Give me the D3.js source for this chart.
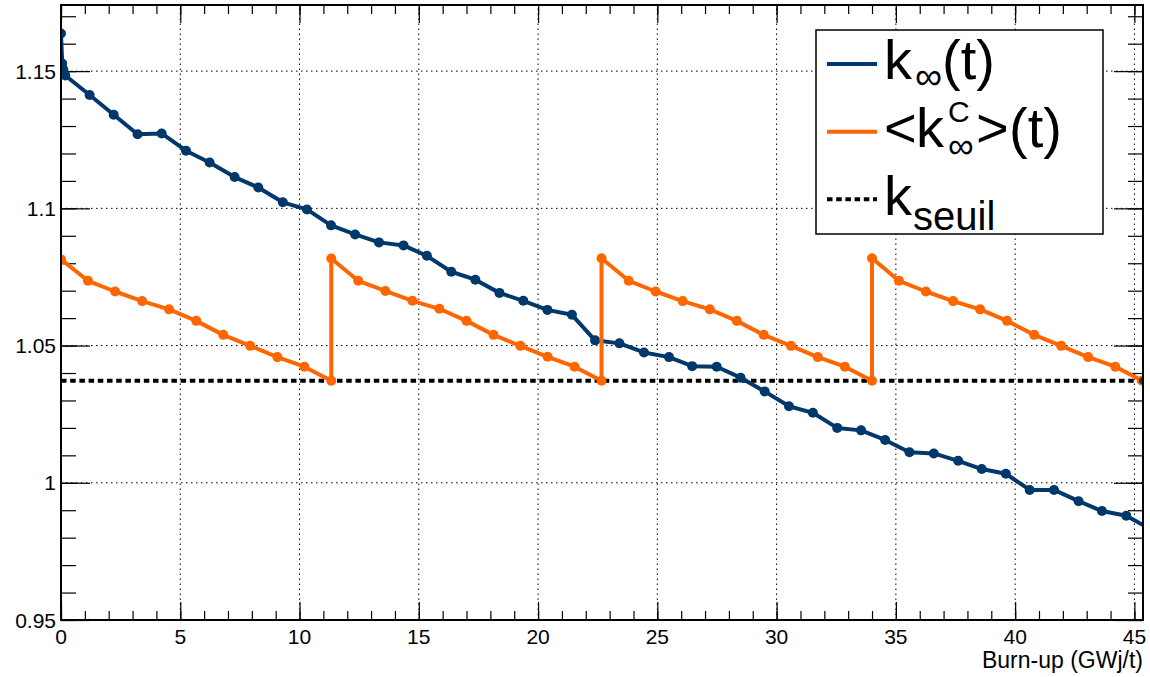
<!DOCTYPE html>
<html><head><meta charset="utf-8">
<script src="https://cdn.jsdelivr.net/npm/d3@7/dist/d3.min.js"></script>
<style>
body{margin:0;background:#fff;}
text{font-family:"Liberation Sans",Arial,Helvetica,sans-serif;fill:#000;}
</style>
</head><body>
<svg id="chart" width="1150" height="677"></svg>
<script>
// ---------- data ----------
const burnupInf = [0, 0.05, 0.1, 0.18, 1.20, 2.21, 3.21, 4.22, 5.24, 6.23, 7.28, 8.27, 9.30, 10.31, 11.32,
  12.33, 13.33, 14.36, 15.34, 16.36, 17.37, 18.38, 19.38, 20.39, 21.42, 22.39, 23.41, 24.44, 25.49,
  26.46, 27.49, 28.49, 29.50, 30.52, 31.52, 32.54, 33.54, 34.55, 35.57, 36.59, 37.61, 38.60, 39.61,
  40.61, 41.63, 42.66, 43.64, 44.66, 45.67];
const kInf = [1.1637, 1.1528, 1.1505, 1.1484, 1.1413, 1.1341, 1.1270, 1.1273, 1.1210, 1.1167, 1.1114,
  1.1076, 1.1022, 1.0996, 1.0938, 1.0905, 1.0876, 1.0865, 1.0827, 1.0769, 1.0740, 1.0692, 1.0663,
  1.0630, 1.0612, 1.0519, 1.0508, 1.0475, 1.0458, 1.0425, 1.0423, 1.0383, 1.0333, 1.0279, 1.0255,
  1.0200, 1.0191, 1.0156, 1.0111, 1.0107, 1.0080, 1.0050, 1.0033, 0.9974, 0.9974, 0.9933, 0.9897,
  0.9880, 0.9831];
const burnupCyc = [0, 1.13, 2.27, 3.40, 4.53, 5.67, 6.80, 7.93, 9.07, 10.20, 11.33,
  11.33, 12.46, 13.60, 14.73, 15.86, 17.00, 18.13, 19.26, 20.40, 21.53, 22.66,
  22.66, 23.80, 24.93, 26.06, 27.20, 28.33, 29.46, 30.60, 31.73, 32.86, 34.00,
  34.00, 35.13, 36.26, 37.40, 38.53, 39.66, 40.80, 41.93, 43.06, 44.20, 45.33];
const kCyc = [1.0814, 1.0736, 1.0697, 1.0662, 1.0632, 1.0590, 1.0539, 1.0499, 1.0458, 1.0423, 1.0372,
  1.0817, 1.0736, 1.0699, 1.0663, 1.0634, 1.0590, 1.0539, 1.0499, 1.0459, 1.0423, 1.0372,
  1.0818, 1.0736, 1.0697, 1.0662, 1.0632, 1.0590, 1.0539, 1.0499, 1.0458, 1.0423, 1.0372,
  1.0818, 1.0736, 1.0697, 1.0662, 1.0632, 1.0590, 1.0539, 1.0499, 1.0458, 1.0423, 1.0372];
const kSeuil = 1.0372;
const xTickValues = [0, 5, 10, 15, 20, 25, 30, 35, 40, 45];
const yTickValues = [0.95, 1, 1.05, 1.1, 1.15];
const yTickLabels = ["0.95", "1", "1.05", "1.1", "1.15"];
const xTitle = "Burn-up (GWj/t)";

// ---------- layout ----------
const L = 61, R = 1143, T = 5, B = 620;
const x = d3.scaleLinear().domain([0, 45.36]).range([L, R]);
const y = d3.scaleLinear().domain([0.95, 1.1741]).range([B, T]);
const BLUE = "#00386b", ORANGE = "#ff6600";

const svg = d3.select("#chart");
svg.append("defs").append("clipPath").attr("id", "frame")
  .append("rect").attr("x", L).attr("y", T).attr("width", R - L).attr("height", B - T);

// grid
const grid = svg.append("g").attr("stroke", "#000").attr("stroke-width", 1).attr("stroke-dasharray", "1.5,3.5");
grid.selectAll(".gx").data(xTickValues.filter(v => v > 0)).join("line")
  .attr("x1", d => x(d)).attr("x2", d => x(d)).attr("y1", B).attr("y2", T);
grid.selectAll(".gy").data(yTickValues.filter(v => v > 0.95)).join("line")
  .attr("x1", L).attr("x2", R).attr("y1", d => y(d)).attr("y2", d => y(d));

// axes via d3 (ticks inside)
const xMinor = d3.range(0, 46, 1);
const yMinor = d3.range(0, 23).map(i => +(0.95 + i * 0.01).toFixed(2)).filter(v => v <= 1.174);
function styleAxis(g) { g.select(".domain").remove(); g.selectAll("line").attr("stroke", "#000").attr("stroke-width", 1.2); g.selectAll("text").remove(); }
svg.append("g").attr("transform", `translate(0,${B})`).call(d3.axisBottom(x).tickValues(xMinor).tickSize(-9)).call(styleAxis);
svg.append("g").attr("transform", `translate(0,${B})`).call(d3.axisBottom(x).tickValues(xTickValues).tickSize(-18)).call(styleAxis);
svg.append("g").attr("transform", `translate(0,${T})`).call(d3.axisTop(x).tickValues(xMinor).tickSize(-9)).call(styleAxis);
svg.append("g").attr("transform", `translate(0,${T})`).call(d3.axisTop(x).tickValues(xTickValues).tickSize(-18)).call(styleAxis);
svg.append("g").attr("transform", `translate(${L},0)`).call(d3.axisLeft(y).tickValues(yMinor).tickSize(-15)).call(styleAxis);
svg.append("g").attr("transform", `translate(${L},0)`).call(d3.axisLeft(y).tickValues(yTickValues).tickSize(-29)).call(styleAxis);
svg.append("g").attr("transform", `translate(${R},0)`).call(d3.axisRight(y).tickValues(yMinor).tickSize(-15)).call(styleAxis);
svg.append("g").attr("transform", `translate(${R},0)`).call(d3.axisRight(y).tickValues(yTickValues).tickSize(-29)).call(styleAxis);

// tick labels
svg.append("g").selectAll("text").data(xTickValues).join("text")
  .attr("x", d => x(d)).attr("y", 644).attr("text-anchor", "middle").attr("font-size", 21).text(d => d);
svg.append("g").selectAll("text").data(yTickValues).join("text")
  .attr("x", 56).attr("y", d => y(d) + 7.5).attr("text-anchor", "end").attr("font-size", 21)
  .text((d, i) => yTickLabels[i]);
svg.append("text").attr("x", R).attr("y", 668).attr("text-anchor", "end").attr("font-size", 23).text(xTitle);

// data
const plot = svg.append("g").attr("clip-path", "url(#frame)");
plot.append("line").attr("x1", x(0)).attr("x2", x(45.36)).attr("y1", y(kSeuil)).attr("y2", y(kSeuil))
  .attr("stroke", "#000").attr("stroke-width", 4).attr("stroke-dasharray", "5.5,3.7");

const lineGen = d3.line().x(d => x(d[0])).y(d => y(d[1]));
const blueData = burnupInf.map((b, i) => [b, kInf[i]]);
const orangeData = burnupCyc.map((b, i) => [b, kCyc[i]]);

plot.append("path").datum(blueData).attr("d", lineGen).attr("fill", "none")
  .attr("stroke", BLUE).attr("stroke-width", 4).attr("stroke-linejoin", "round");
plot.selectAll(".pb").data(blueData).join("circle").attr("cx", d => x(d[0])).attr("cy", d => y(d[1]))
  .attr("r", 5).attr("fill", BLUE);

plot.append("path").datum(orangeData).attr("d", lineGen).attr("fill", "none")
  .attr("stroke", ORANGE).attr("stroke-width", 4).attr("stroke-linejoin", "round");
plot.selectAll(".po").data(orangeData).join("circle").attr("cx", d => x(d[0])).attr("cy", d => y(d[1]))
  .attr("r", 5).attr("fill", ORANGE);
const last = orangeData[orangeData.length - 1];
plot.append("circle").attr("cx", x(last[0])).attr("cy", y(last[1])).attr("r", 4)
  .attr("fill", "#1d3b16").attr("stroke", ORANGE).attr("stroke-width", 1.6);

// frame
svg.append("rect").attr("x", L).attr("y", T).attr("width", R - L).attr("height", B - T)
  .attr("fill", "none").attr("stroke", "#000").attr("stroke-width", 2);

// legend
const lg = svg.append("g");
lg.append("rect").attr("x", 816).attr("y", 30).attr("width", 287).attr("height", 204)
  .attr("fill", "#fff").attr("stroke", "#000").attr("stroke-width", 1.5);
const rows = [64, 131.7, 199.3];
lg.append("line").attr("x1", 827).attr("x2", 877).attr("y1", rows[0]).attr("y2", rows[0]).attr("stroke", BLUE).attr("stroke-width", 4);
lg.append("line").attr("x1", 827).attr("x2", 877).attr("y1", rows[1]).attr("y2", rows[1]).attr("stroke", ORANGE).attr("stroke-width", 4);
lg.append("line").attr("x1", 827).attr("x2", 877).attr("y1", rows[2]).attr("y2", rows[2]).attr("stroke", "#000").attr("stroke-width", 4).attr("stroke-dasharray", "5.5,3.7");

function t(xp, yp, size, s) { lg.append("text").attr("x", xp).attr("y", yp).attr("font-size", size).text(s); }
// row 1: k∞(t)
t(884, 78.5, 56, "k"); t(915, 89, 38, "∞"); t(942, 78.5, 56, "(t)");
// row 2: <k∞^C>(t)
t(884, 146.5, 56, "<"); t(916, 146.5, 56, "k"); t(948, 122, 30, "C"); t(948, 158, 36, "∞");
t(976, 146.5, 56, ">"); t(1009, 146.5, 56, "(t)");
// row 3: k_seuil
t(884, 215, 56, "k"); t(913, 230, 40, "seuil");
</script>
</body></html>
